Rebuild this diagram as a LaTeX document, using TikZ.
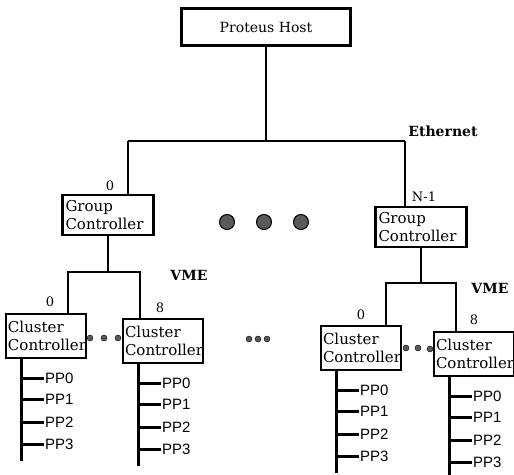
\documentclass[tikz,border=0pt]{standalone}
\usepackage{fontspec}
\setmainfont{DejaVu Serif}
\newfontfamily\ppfont{Liberation Sans}
\begin{document}
\begin{tikzpicture}[x=1pt, y=-1pt,
        bus/.style={line width=2.6pt},
        box/.style={draw, line width=2.4pt, inner sep=3pt, align=left, font=\fontsize{15}{18}\selectfont},
        gcbox/.style={box, minimum width=91pt, minimum height=40pt, text width=85pt},
        ccbox/.style={box, inner xsep=2pt, minimum width=80pt, minimum height=44pt, text width=76pt},
        lbl/.style={font=\fontsize{13}{15}\selectfont},
        netlbl/.style={font=\bfseries\fontsize{14}{16}\selectfont},
        pp/.style={font=\ppfont\fontsize{15}{17}\selectfont, inner sep=1pt, anchor=west},
        bigdot/.style={circle, draw, line width=1pt, fill=black!65, minimum size=15pt, inner sep=0pt},
        smalldot/.style={circle, draw, fill=black!65, minimum size=6pt, inner sep=0pt}]
            \useasboundingbox (0,0) rectangle (514,474);
            % host and ethernet
            \node[box, minimum width=169pt, minimum height=37pt, align=center, text width=, font=\fontsize{14}{16}\selectfont] (host) at (266,27) {Proteus Host};
            \coordinate (e0) at (128,141);
            \coordinate (e1) at (405,141);
            \draw[bus] (host.south) -- (host.south |- e0);
            \draw[bus] (e0) -- (e1);
            \node[netlbl] (eth) at (443,131) {Ethernet};
            % group controllers
            \node[gcbox] (gcl) at (108,215) {Group\\Controller};
            \node[gcbox] (gcr) at (421,227) {Group\\Controller};
            \draw[bus] (e0) -- (e0 |- gcl.north);
            \draw[bus] (e1) -- (e1 |- gcr.north);
            \node[lbl] (gcl-n) at (110,186) {0};
            \node[lbl] (gcr-n) at (424,197) {N-1};
            \node[bigdot] (d1) at (227,222) {};
            \node[bigdot] (d2) at (264,222) {};
            \node[bigdot] (d3) at (301,222) {};
            % cluster controllers
            \node[ccbox] (cc1) at (46,336) {Cluster\\Controller};
            \node[ccbox] (cc2) at (163,341) {Cluster\\Controller};
            \node[ccbox] (cc3) at (361,348) {Cluster\\Controller};
            \node[ccbox] (cc4) at (474,354) {Cluster\\Controller};
            \coordinate (v0) at (68,272);
            \coordinate (v1) at (140,272);
            \coordinate (v2) at (386,283);
            \coordinate (v3) at (456,283);
            \draw[bus] (gcl.south) -- (gcl.south |- v0);
            \draw[bus] (gcr.south) -- (gcr.south |- v2);
            \draw[bus] (v0 |- cc1.north) -- (v0) -- (v1) -- (v1 |- cc2.north);
            \draw[bus] (v2 |- cc3.north) -- (v2) -- (v3) -- (v3 |- cc4.north);
            \node[netlbl] (vme1) at (189,275) {VME};
            \node[netlbl] (vme2) at (490,288) {VME};
            \node[lbl] (cc1-n) at (50,302) {0};
            \node[lbl] (cc2-n) at (160,308) {8};
            \node[lbl] (cc3-n) at (361,315) {0};
            \node[lbl] (cc4-n) at (474,320) {8};
            \node[smalldot] (s1) at (90,338) {};
            \node[smalldot] (s2) at (104,338) {};
            \node[smalldot] (s3) at (118,338) {};
            \node[smalldot] (s4) at (249,339) {};
            \node[smalldot] (s5) at (258,339) {};
            \node[smalldot] (s6) at (267,339) {};
            \node[smalldot] (s7) at (406,348) {};
            \node[smalldot] (s8) at (418,348) {};
            \node[smalldot] (s9) at (430,349) {};
            % processors
            \foreach \c in {cc1,cc2,cc3,cc4} {
                \path ([xshift=17pt]\c.south west) coordinate (\c-top) ++(0,102) coordinate (\c-end);
                \draw[line width=2.8pt] (\c-top) -- (\c-end);
                \foreach \i/\y in {0/19,1/40,2/63,3/85} {
                    \path (\c-top) ++(0,\y) coordinate (\c-t\i);
                    \node[pp] (\c-pp\i) at ([xshift=22pt]\c-t\i) {PP\i};
                    \draw[line width=3pt] (\c-t\i) -- (\c-pp\i.west);
                }
            }
        \end{tikzpicture}
\end{document}
